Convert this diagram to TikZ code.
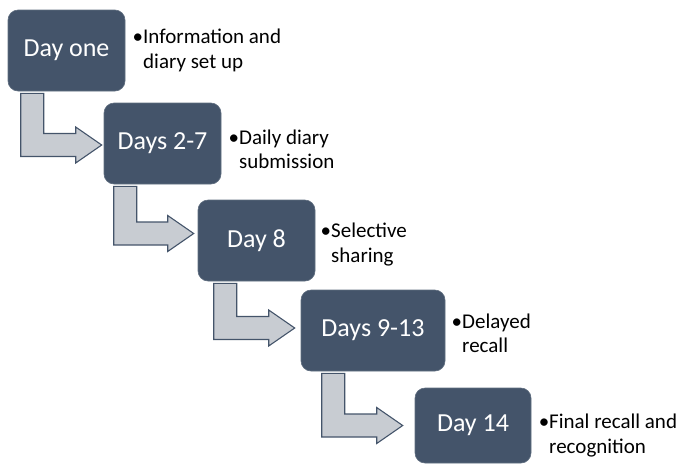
\documentclass[tikz,border=0pt]{standalone}
\usepackage{fontspec}
\setmainfont{Carlito}
\usetikzlibrary{calc}
\definecolor{boxc}{HTML}{44546A}
\definecolor{arrfill}{HTML}{C8CCD2}
\tikzset{
  stagebox/.style={rounded corners=10pt, fill=boxc, draw=boxc!85!white, line width=0.6pt,
    text=white, font=\fontsize{26}{31}\selectfont, inner sep=0pt},
  note/.style={anchor=west, align=left, inner sep=0pt, text=black,
    font=\fontsize{21}{24.5}\selectfont},
  arr/.style={fill=arrfill, draw=boxc, line width=1.1pt, line join=miter}
}
% #1 from node, #2 to node, #3 shaft offset from box left, #4 y shift of shaft centre (up +), #5 gap tip->box
\newcommand\bentarrow[5]{%
  \draw[arr] let \p1=(#1.south west), \p2=(#2.west) in
    ({\x1+#3pt}, {\y1-2pt}) -- ({\x1+#3pt+23pt}, {\y1-2pt})
    -- ({\x1+#3pt+23pt}, {\y2+#4pt+11.5pt})
    -- ({\x2-#5pt-26pt}, {\y2+#4pt+11.5pt})
    -- ({\x2-#5pt-26pt}, {\y2+#4pt+18pt})
    -- ({\x2-#5pt}, {\y2+#4pt})
    -- ({\x2-#5pt-26pt}, {\y2+#4pt-18pt})
    -- ({\x2-#5pt-26pt}, {\y2+#4pt-11.5pt})
    -- ({\x1+#3pt}, {\y2+#4pt-11.5pt}) -- cycle;}
\begin{document}
\begin{tikzpicture}[x=1pt, y=-1pt]
\useasboundingbox (0,0) rectangle (684,464);
\clip (0,0) rectangle (684,464);
\node[stagebox, minimum width=117pt, minimum height=81pt] (b1) at (66.5,50.5) {Day one};
\node[stagebox, minimum width=117pt, minimum height=81pt] (b2) at (162.5,143.5) {Days 2-7};
\node[stagebox, minimum width=117pt, minimum height=81pt] (b3) at (256.5,240.5) {Day 8};
\node[stagebox, minimum width=144pt, minimum height=81pt] (b4) at (373,330.5) {Days 9-13};
\node[stagebox, minimum width=116pt, minimum height=75pt] (b5) at (473,425.5) {Day 14};

\bentarrow{b1}{b2}{13}{-1.5}{2}
\bentarrow{b2}{b3}{10}{7}{4}
\bentarrow{b3}{b4}{16}{2.5}{6}
\bentarrow{b4}{b5}{21}{0}{12}

\node[note] (n1) at (143,50.5) {\llap{•}Information and\\diary set up};
\node[note] (n2) at (239,149.5) {\llap{•}Daily diary\\submission};
\node[note] (n3) at (331,244.5) {\llap{•}Selective\\sharing};
\node[note] (n4) at (462,333.5) {\llap{•}Delayed\\recall};
\node[note] (n5) at (549,435.5) {\llap{•}Final recall and\\recognition};
\end{tikzpicture}
\end{document}
